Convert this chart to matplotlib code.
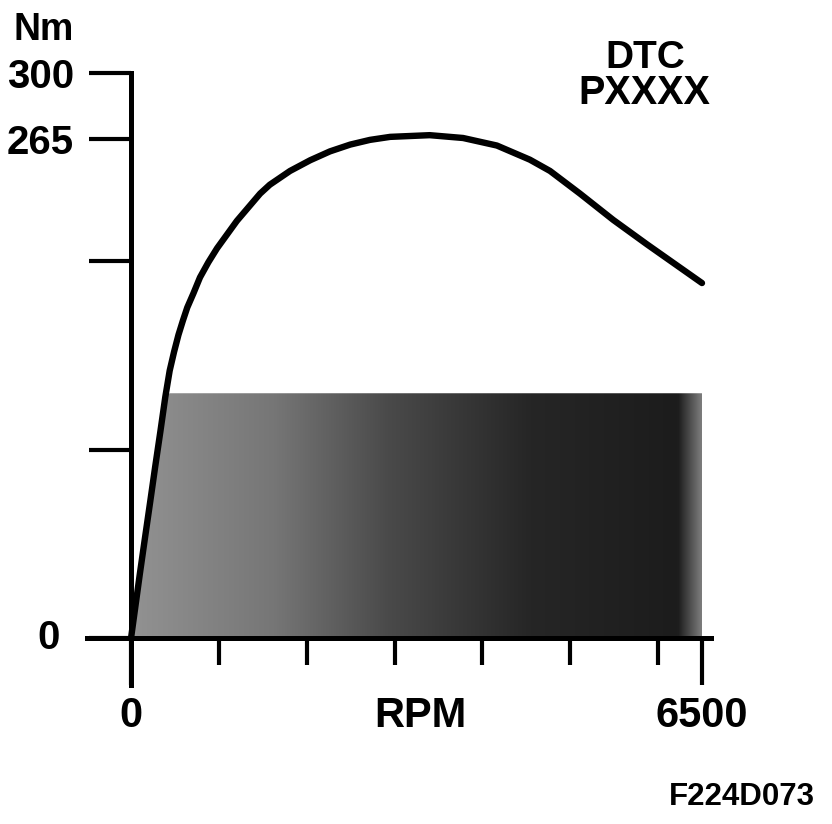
import matplotlib
matplotlib.use('Agg')
import matplotlib.pyplot as plt
import numpy as np
from matplotlib.colors import LinearSegmentedColormap

# ── data ─────────────────────────────────────────────────────────────────────
rpm = [0, 50, 100, 155, 220, 275, 335, 390, 440, 490, 540, 590, 640, 710,
       785, 880, 980, 1205, 1470, 1580, 1810, 2040, 2265, 2495, 2720, 2950,
       3400, 3780, 4165, 4540, 4770, 5110, 5490, 5875, 6500]
torque = [0, 17, 34, 52, 73, 91, 110, 128, 142, 152, 161, 168.5, 175.5, 183,
          191.5, 199.5, 207, 221.5, 236, 240.7, 248, 253.7, 258.4, 262, 264.5,
          266.1, 267, 265.5, 261.5, 254, 248, 236, 222, 209, 188.5]
limit_nm = 130          # top of the shaded band

ytick_vals = [0, 100, 200, 265, 300]
ytick_labels = ['', '', '', '265', '300']
xtick_major = [0, 3290, 6500]
xtick_labels = ['0', 'RPM', '6500']
xtick_minor = [1000, 2000, 3000, 4000, 5000, 6000]

FONT = 'Liberation Sans'

fig = plt.figure(figsize=(8.32, 8.24), dpi=100)
ax = fig.add_axes([0.1047, 0.1684, 0.7496, 0.743])
ax.set_xlim(-500, 6600)
ax.set_ylim(-25, 300)

# ── shaded band: gradient clipped to area under min(curve, limit) ────────────
band = np.minimum(np.array(torque, dtype=float), limit_nm)
poly = ax.fill_between(rpm, 0, band, facecolor='none', edgecolor='none')
shade = LinearSegmentedColormap.from_list('shade', [
    (0.00, '#929292'), (0.25, '#767676'), (0.45, '#4a4a4a'),
    (0.70, '#262626'), (0.96, '#1c1c1c'), (1.00, '#7a7a7a')])
grad = np.linspace(0, 1, 256).reshape(1, -1)
im = ax.imshow(grad, cmap=shade, aspect='auto', extent=[0, 6500, 0, limit_nm],
               origin='lower', zorder=1, interpolation='bilinear')
im.set_clip_path(poly.get_paths()[0], transform=ax.transData)

# ── torque curve ─────────────────────────────────────────────────────────────
ax.plot(rpm, torque, color='black', lw=4.6, solid_capstyle='round',
        solid_joinstyle='round', zorder=3)

# ── axes ─────────────────────────────────────────────────────────────────────
for s in ['top', 'right']:
    ax.spines[s].set_visible(False)
ax.spines['left'].set_position(('data', 0))
ax.spines['bottom'].set_position(('data', 0))
for s in ['left', 'bottom']:
    ax.spines[s].set_linewidth(3.6)
    ax.spines[s].set_zorder(4)

ax.set_yticks(ytick_vals)
ax.set_yticklabels(ytick_labels)
ax.tick_params(axis='y', direction='out', length=30, width=3, pad=11,
               labelsize=29)
ax.set_xticks(xtick_major)
ax.set_xticks(xtick_minor, minor=True)
ax.set_xticklabels(xtick_labels)
ax.tick_params(axis='x', which='major', direction='out', length=34, width=3,
               pad=8, labelsize=30)
ax.tick_params(axis='x', which='minor', direction='out', length=19.5, width=3)
ax.xaxis.get_major_ticks()[1].tick1line.set_visible(False)
for lab in ax.get_yticklabels() + ax.get_xticklabels():
    lab.set_fontfamily(FONT)
    lab.set_fontweight('bold')

# y "0" label sits a little further left than the others
ax.annotate('0', xy=(0, 0), xycoords=('axes fraction', 'data'),
            xytext=(-19.5, 0), textcoords='offset points', ha='right',
            va='center', fontsize=29, fontweight='bold', family=FONT)

# ── annotations ──────────────────────────────────────────────────────────────
fig.text(0.052, 0.963, 'Nm', ha='center', va='center', fontsize=27,
         fontweight='bold', family=FONT)
fig.text(0.776, 0.930, 'DTC', ha='center', va='center', fontsize=28,
         fontweight='bold', family=FONT)
fig.text(0.774, 0.887, 'PXXXX', ha='center', va='center', fontsize=28.5,
         fontweight='bold', family=FONT)
fig.text(0.98, 0.033, 'F224D073', ha='right', va='center', fontsize=22.5,
         fontweight='bold', family=FONT)

fig.savefig('out.png', dpi=100, facecolor='white')
